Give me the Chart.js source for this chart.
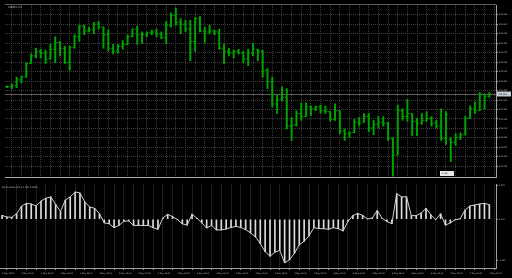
<!DOCTYPE html>
<html>
<head>
<meta charset="utf-8">
<script src="https://cdn.jsdelivr.net/npm/chart.js@4.4.1/dist/chart.umd.min.js"></script>
<style>
html, body { margin: 0; padding: 0; background: #000; }
#wrap { position: relative; width: 512px; height: 278px; background: #000; overflow: hidden; }
#main { position: absolute; left: 0; top: 0; }
#osc { position: absolute; left: 0; top: 182px; }
</style>
</head>
<body>
<div id="wrap">
  <canvas id="main" width="512" height="182"></canvas>
  <canvas id="osc" width="512" height="96"></canvas>
</div>
<script>
const symbolTitle = "USDJPY,H1";
const oscTitle = "Stoch index (10,3,1.00) 0.1051";
const markerText = "1 (20)";

// hourly bars
const opens = [
  105.382, 105.382, 105.390, 105.439, 105.463, 105.577, 105.642, 105.682, 105.666, 105.617,
  105.698, 105.755, 105.706, 105.585, 105.714, 105.804, 105.893, 105.852, 105.860, 105.909,
  105.885, 105.820, 105.706, 105.682, 105.723, 105.739, 105.804, 105.868, 105.820, 105.820,
  105.836, 105.844, 105.828, 105.795, 105.901, 105.982, 105.925, 105.909, 105.868, 105.763,
  105.957, 105.852, 105.844, 105.852, 105.844, 105.706, 105.682, 105.666, 105.682, 105.666,
  105.617, 105.666, 105.698, 105.682, 105.520, 105.423, 105.237, 105.277, 105.293, 105.050,
  105.058, 105.156, 105.131, 105.212, 105.196, 105.212, 105.180, 105.172, 105.107, 105.180,
  105.010, 104.985, 104.994, 105.083, 105.083, 105.131, 105.034, 105.066, 105.083, 105.075,
  104.945, 104.807, 105.180, 105.131, 105.156, 105.091, 105.075, 105.099, 105.115, 105.075,
  105.050, 104.945, 104.937, 104.913, 104.953, 104.977, 105.115, 105.196, 105.180, 105.318,
  105.301
];
const highs = [
  105.390, 105.407, 105.463, 105.471, 105.585, 105.658, 105.706, 105.698, 105.690, 105.739,
  105.804, 105.763, 105.723, 105.723, 105.820, 105.901, 105.901, 105.885, 105.925, 105.933,
  105.885, 105.860, 105.739, 105.739, 105.771, 105.820, 105.868, 105.893, 105.844, 105.844,
  105.860, 105.868, 105.844, 105.933, 106.006, 106.046, 105.957, 105.941, 105.941, 105.966,
  105.974, 105.885, 105.901, 105.860, 105.868, 105.739, 105.706, 105.690, 105.698, 105.682,
  105.698, 105.747, 105.698, 105.690, 105.536, 105.463, 105.318, 105.382, 105.366, 105.123,
  105.180, 105.245, 105.245, 105.220, 105.220, 105.228, 105.220, 105.172, 105.237, 105.180,
  105.026, 105.002, 105.107, 105.123, 105.156, 105.156, 105.099, 105.131, 105.131, 105.083,
  104.953, 105.228, 105.196, 105.277, 105.156, 105.115, 105.156, 105.172, 105.131, 105.099,
  105.196, 105.172, 104.953, 104.985, 104.994, 105.131, 105.220, 105.253, 105.334, 105.318,
  105.334
];
const lows = [
  105.374, 105.366, 105.374, 105.415, 105.463, 105.577, 105.625, 105.625, 105.577, 105.617,
  105.585, 105.642, 105.577, 105.520, 105.706, 105.763, 105.820, 105.844, 105.828, 105.868,
  105.706, 105.682, 105.658, 105.666, 105.698, 105.739, 105.804, 105.739, 105.747, 105.804,
  105.820, 105.804, 105.787, 105.747, 105.885, 105.901, 105.828, 105.844, 105.601, 105.682,
  105.844, 105.755, 105.828, 105.820, 105.698, 105.577, 105.642, 105.625, 105.658, 105.585,
  105.561, 105.642, 105.601, 105.463, 105.366, 105.212, 105.156, 105.261, 105.026, 104.929,
  105.050, 105.099, 105.131, 105.139, 105.180, 105.156, 105.156, 105.091, 105.099, 104.985,
  104.929, 104.953, 104.994, 105.050, 105.083, 105.002, 104.977, 105.034, 105.050, 104.929,
  104.629, 104.807, 105.099, 105.091, 104.969, 104.969, 105.066, 105.091, 105.050, 105.034,
  104.929, 104.896, 104.751, 104.888, 104.937, 104.977, 105.115, 105.156, 105.180, 105.196,
  105.293
];
const closes = [
  105.382, 105.390, 105.439, 105.463, 105.577, 105.642, 105.682, 105.666, 105.609, 105.698,
  105.755, 105.706, 105.585, 105.714, 105.804, 105.893, 105.852, 105.860, 105.909, 105.885,
  105.820, 105.706, 105.682, 105.723, 105.739, 105.804, 105.868, 105.820, 105.820, 105.836,
  105.844, 105.828, 105.795, 105.901, 105.982, 105.925, 105.909, 105.868, 105.763, 105.957,
  105.852, 105.844, 105.852, 105.844, 105.706, 105.682, 105.666, 105.682, 105.666, 105.617,
  105.666, 105.698, 105.682, 105.520, 105.423, 105.237, 105.277, 105.293, 105.050, 105.058,
  105.156, 105.131, 105.212, 105.196, 105.212, 105.180, 105.172, 105.107, 105.180, 105.010,
  104.985, 104.994, 105.083, 105.075, 105.131, 105.034, 105.066, 105.083, 105.075, 104.945,
  104.807, 105.180, 105.131, 105.156, 105.091, 105.075, 105.099, 105.115, 105.075, 105.050,
  104.945, 105.147, 104.913, 104.953, 104.977, 105.115, 105.196, 105.180, 105.318, 105.301,
  105.318
];

// oscillator in the lower window
const oscValues = [
  0.031, 0.018, 0.016, 0.044, 0.104, 0.127, 0.122, 0.106, 0.145, 0.168,
  0.179, 0.119, 0.062, 0.153, 0.179, 0.218, 0.210, 0.137, 0.098, 0.088,
  0.044, -0.029, -0.036, -0.067, -0.049, -0.016, -0.013, -0.049, -0.049, -0.049,
  -0.049, -0.067, -0.080, 0.010, 0.040, 0.021, -0.003, -0.036, -0.047, 0.041,
  0.008, -0.029, -0.070, -0.049, -0.085, -0.085, -0.078, -0.065, -0.057, -0.065,
  -0.083, -0.109, -0.140, -0.194, -0.259, -0.295, -0.262, -0.249, -0.347, -0.324,
  -0.272, -0.204, -0.176, -0.132, -0.067, -0.075, -0.075, -0.080, -0.067, -0.075,
  -0.093, -0.016, 0.029, 0.047, 0.031, 0.003, 0.010, 0.070, 0.008, -0.018,
  -0.036, 0.204, 0.179, 0.179, 0.029, 0.029, 0.049, 0.088, 0.036, -0.003,
  0.044, -0.047, -0.029, -0.003, 0.003, 0.073, 0.106, 0.114, 0.122, 0.127,
  0.117
];

// one label every 4 bars
const timeLabels = [
  "1 May 2018", "1 May 10:00", "1 May 14:00", "1 May 18:00", "1 May 22:00",
  "2 May 02:00", "2 May 06:00", "2 May 10:00", "2 May 14:00", "2 May 18:00",
  "2 May 22:00", "3 May 02:00", "3 May 06:00", "3 May 10:00", "3 May 14:00",
  "3 May 18:00", "3 May 22:00", "4 May 02:00", "4 May 06:00", "4 May 10:00",
  "4 May 14:00", "4 May 18:00", "4 May 22:00", "7 May 02:00", "7 May 06:00",
  "7 May 10:00"
];
const priceTicks = [
  105.990, 105.910, 105.830, 105.750, 105.670, 105.590, 105.510, 105.430, 105.350,
  105.270, 105.190, 105.110, 105.030, 104.950, 104.870, 104.790, 104.710
];
const oscTicks = [0.272, 0, -0.326];

const barGreen = "#00a400";
const gridColor = "#3c3c3c";
const axisColor = "#a0a0a0";
const textColor = "#c0c0c0";
const fontFamily = "DejaVu Sans";

const idx = opens.map((_, i) => i);
const gridTicks = idx.filter(i => i % 2 === 0);
const xMin = -0.41, xMax = 101.37;

const mainOverlay = {
    id: "mainOverlay",
    beforeDatasetsDraw(chart) {
        const { ctx, chartArea: a, scales: { y } } = chart;
        const py = Math.round(y.getPixelForValue(closes[closes.length - 1])) + 0.5;
        ctx.save();
        ctx.strokeStyle = "#5c5c5c";
        ctx.lineWidth = 1;
        ctx.beginPath();
        ctx.moveTo(a.left, py);
        ctx.lineTo(a.right, py);
        ctx.stroke();
        ctx.restore();
    },
    afterDraw(chart) {
        const { ctx, chartArea: a, scales: { x, y } } = chart;
        const last = closes[closes.length - 1];
        const py = Math.round(y.getPixelForValue(last)) + 0.5;
        ctx.save();
        ctx.lineWidth = 1;
        ctx.strokeStyle = "#585858";
        ctx.beginPath();
        ctx.moveTo(a.left, a.top - 0.5);
        ctx.lineTo(a.right, a.top - 0.5);
        ctx.stroke();
        ctx.strokeStyle = "#a8a8a8";
        ctx.beginPath();
        ctx.moveTo(a.left, a.bottom + 0.5);
        ctx.lineTo(a.right, a.bottom + 0.5);
        ctx.stroke();

        // last price box on the axis
        ctx.fillStyle = "#c4ccd6";
        ctx.fillRect(a.right + 1, py - 3, 14, 5);
        ctx.fillStyle = "#000";
        ctx.font = "2px " + fontFamily;
        ctx.textBaseline = "middle";
        ctx.fillText(last.toFixed(3), a.right + 2.5, py);

        // small marker near the bottom
        const mx = Math.round(x.getPixelForValue(90)) - 1;
        ctx.fillStyle = "#e8e8e8";
        ctx.fillRect(mx, a.bottom - 6, 14, 5);
        ctx.fillStyle = "#000";
        ctx.fillText(markerText, mx + 2, a.bottom - 3.5);

        ctx.fillStyle = textColor;
        ctx.font = "2.6px " + fontFamily;
        ctx.textBaseline = "top";
        ctx.fillText(symbolTitle, a.left + 3, a.top + 1.5);
        ctx.restore();
    }
};

const oscOverlay = {
    id: "oscOverlay",
    afterDraw(chart) {
        const { ctx, chartArea: a } = chart;
        ctx.save();
        ctx.fillStyle = textColor;
        ctx.font = "2.3px " + fontFamily;
        ctx.textBaseline = "top";
        ctx.fillText(oscTitle, a.left + 2, a.top + 2);
        ctx.restore();
    }
};

const mainChart = new Chart(document.getElementById("main"), {
    type: "bar",
    data: {
        datasets: [
            {
                type: "bar",
                data: idx.map(i => ({ x: i, y: [lows[i], highs[i]] })),
                backgroundColor: barGreen,
                barThickness: 1.3
            },
            {
                type: "line",
                data: idx.map(i => ({ x: i - 0.2, y: opens[i] })),
                showLine: false,
                pointStyle: "line",
                pointRadius: 1,
                pointBorderWidth: 1,
                pointBorderColor: barGreen,
                borderColor: barGreen
            },
            {
                type: "line",
                data: idx.map(i => ({ x: i + 0.2, y: closes[i] })),
                showLine: false,
                pointStyle: "line",
                pointRadius: 1,
                pointBorderWidth: 1,
                pointBorderColor: barGreen,
                borderColor: barGreen
            }
        ]
    },
    options: {
        responsive: false,
        animation: false,
        events: [],
        layout: { padding: { top: 2, bottom: 1, left: 0, right: 0 } },
        plugins: { legend: { display: false }, tooltip: { enabled: false } },
        scales: {
            x: {
                type: "linear", min: xMin, max: xMax, offset: false, bounds: "data",
                afterBuildTicks: s => { s.ticks = gridTicks.map(v => ({ value: v })); },
                afterFit: s => { s.height = 0; },
                ticks: { display: false },
                grid: { color: gridColor, drawTicks: false },
                border: { display: false, dash: [1, 1] }
            },
            y: {
                position: "right", min: 104.621, max: 106.071, bounds: "data",
                afterBuildTicks: s => { s.ticks = priceTicks.map(v => ({ value: v })); },
                afterFit: s => { s.width = 16; },
                ticks: {
                    color: textColor, padding: 1,
                    font: { family: fontFamily, size: 2 },
                    callback: v => Number(v).toFixed(3)
                },
                grid: { color: gridColor, tickLength: 2, tickColor: axisColor },
                border: { display: true, color: axisColor, dash: [1, 1] }
            }
        }
    },
    plugins: [mainOverlay]
});

const oscChart = new Chart(document.getElementById("osc"), {
    type: "bar",
    data: {
        datasets: [
            {
                type: "line",
                data: idx.map(i => ({ x: i, y: oscValues[i] })),
                borderColor: "#d0d0d0",
                borderWidth: 1,
                pointRadius: 0,
                tension: 0,
                order: 0
            },
            {
                type: "bar",
                data: idx.map(i => ({ x: i, y: oscValues[i] })),
                backgroundColor: "#dcdcdc",
                barThickness: 1,
                order: 1
            }
        ]
    },
    options: {
        responsive: false,
        animation: false,
        events: [],
        layout: { padding: { top: 1, bottom: 0, left: 0, right: 0 } },
        plugins: { legend: { display: false }, tooltip: { enabled: false } },
        scales: {
            x: {
                type: "linear", min: xMin, max: xMax, offset: false, bounds: "data",
                afterBuildTicks: s => { s.ticks = gridTicks.map(v => ({ value: v })); },
                afterFit: s => { s.height = 10; },
                ticks: {
                    color: textColor, padding: 2, align: "start",
                    autoSkip: false, maxRotation: 0,
                    font: { family: fontFamily, size: 2 },
                    callback: v => (v % 4 === 0 ? timeLabels[v / 4] : "")
                },
                grid: { color: gridColor, tickLength: 2, tickColor: axisColor },
                border: { display: true, color: axisColor, dash: [1, 1] }
            },
            y: {
                position: "right", min: -0.389, max: 0.280, bounds: "data",
                afterBuildTicks: s => { s.ticks = oscTicks.map(v => ({ value: v })); },
                afterFit: s => { s.width = 16; },
                ticks: {
                    color: textColor, padding: 1,
                    font: { family: fontFamily, size: 2 },
                    callback: v => Number(v).toFixed(3)
                },
                grid: { drawOnChartArea: false, tickLength: 2, tickColor: axisColor },
                border: { display: true, color: axisColor }
            }
        }
    },
    plugins: [oscOverlay]
});
</script>
</body>
</html>
